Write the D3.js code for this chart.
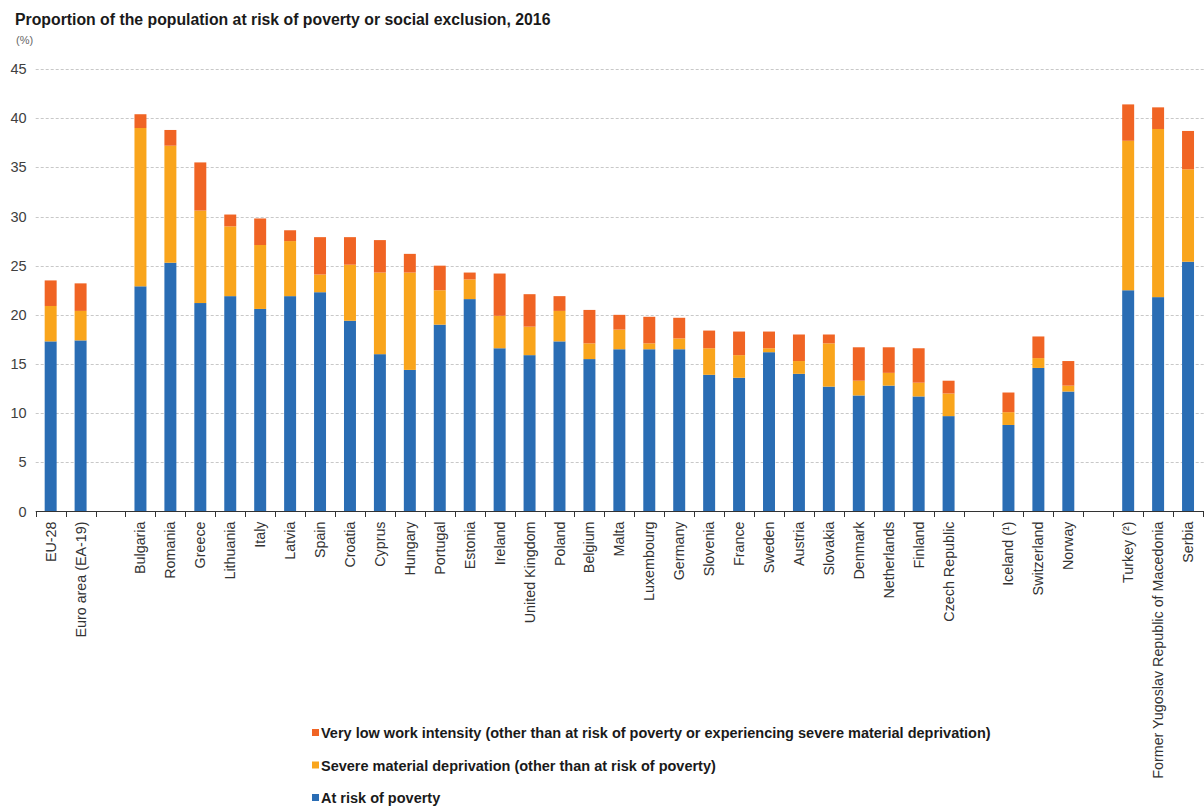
<!DOCTYPE html>
<html>
<head>
<meta charset="utf-8">
<script src="https://cdn.jsdelivr.net/npm/d3@7/dist/d3.min.js"></script>
<style>
  html, body { margin: 0; padding: 0; background: #fff; }
  svg { display: block; font-family: "Liberation Sans", Arial, sans-serif; }
</style>
</head>
<body>
<svg id="chart" width="1204" height="807"></svg>
<script>
// ---- Data (values in %) ----
const categories = [
  "EU-28", "Euro area (EA-19)", "",
  "Bulgaria", "Romania", "Greece", "Lithuania", "Italy", "Latvia", "Spain", "Croatia",
  "Cyprus", "Hungary", "Portugal", "Estonia", "Ireland", "United Kingdom", "Poland",
  "Belgium", "Malta", "Luxembourg", "Germany", "Slovenia", "France", "Sweden", "Austria",
  "Slovakia", "Denmark", "Netherlands", "Finland", "Czech Republic", " ",
  "Iceland (¹)", "Switzerland", "Norway", "  ",
  "Turkey (²)", "Former Yugoslav Republic of Macedonia", "Serbia"
];
// At risk of poverty
const atRiskOfPoverty = [
  17.3, 17.4, null,
  22.9, 25.3, 21.2, 21.9, 20.6, 21.9, 22.3, 19.4,
  16.0, 14.4, 19.0, 21.6, 16.6, 15.9, 17.3,
  15.5, 16.5, 16.5, 16.5, 13.9, 13.6, 16.2, 14.0,
  12.7, 11.8, 12.8, 11.7, 9.7, null,
  8.8, 14.6, 12.2, null,
  22.5, 21.8, 25.4
];
// Severe material deprivation (other than at risk of poverty)
const severeMaterialDeprivation = [
  3.6, 3.0, null,
  16.1, 11.9, 9.4, 7.1, 6.5, 5.6, 1.8, 5.7,
  8.3, 9.9, 3.5, 2.0, 3.3, 2.9, 3.1,
  1.6, 2.0, 0.6, 1.1, 2.7, 2.3, 0.4, 1.3,
  4.4, 1.5, 1.3, 1.4, 2.3, null,
  1.3, 1.0, 0.6, null,
  15.2, 17.1, 9.4
];
// Very low work intensity (other than at risk of poverty or experiencing severe material deprivation)
const veryLowWorkIntensity = [
  2.6, 2.8, null,
  1.4, 1.6, 4.9, 1.2, 2.7, 1.1, 3.8, 2.8,
  3.3, 1.9, 2.5, 0.7, 4.3, 3.3, 1.5,
  3.4, 1.5, 2.7, 2.1, 1.8, 2.4, 1.7, 2.7,
  0.9, 3.4, 2.6, 3.5, 1.3, null,
  2.0, 2.2, 2.5, null,
  3.7, 2.2, 3.9
];
const yTicks = [0, 5, 10, 15, 20, 25, 30, 35, 40, 45];
const seriesNames = [
  "Very low work intensity (other than at risk of poverty or experiencing severe material deprivation)",
  "Severe material deprivation (other than at risk of poverty)",
  "At risk of poverty"
];
const seriesKeys = ["arp", "smd", "vlwi"];
const colors = { arp: "#2a6db4", smd: "#f9a51c", vlwi: "#f06424" };

// ---- Build table ----
const rows = categories.map((c, i) => ({
  cat: c,
  arp: atRiskOfPoverty[i] || 0,
  smd: severeMaterialDeprivation[i] || 0,
  vlwi: veryLowWorkIntensity[i] || 0,
  empty: atRiskOfPoverty[i] == null
}));

const svg = d3.select("#chart");

const x = d3.scaleBand()
  .domain(categories)
  .range([35.7, 1203])
  .paddingInner(0.6)
  .paddingOuter(0.3);

const y = d3.scaleLinear().domain([0, 45]).range([511.5, 69]);

// Title
svg.append("text")
  .attr("x", 15).attr("y", 25)
  .attr("font-size", 15.8).attr("font-weight", "bold")
  .attr("fill", "#1a1a1a")
  .text("Proportion of the population at risk of poverty  or social exclusion, 2016");
svg.append("text")
  .attr("x", 16).attr("y", 44)
  .attr("font-size", 11).attr("fill", "#666")
  .text("(%)");

// Gridlines
svg.append("g")
  .selectAll("line")
  .data(yTicks.filter(d => d > 0))
  .join("line")
  .attr("x1", 35.7).attr("x2", 1204)
  .attr("y1", d => Math.round(y(d)) + 0.5).attr("y2", d => Math.round(y(d)) + 0.5)
  .attr("stroke", "#c8c8c8")
  .attr("stroke-dasharray", "3,2");

// Y axis labels
const yAxis = d3.axisLeft(y).tickValues(yTicks).tickSize(0).tickPadding(9);
const gy = svg.append("g").attr("transform", "translate(35.7,0)").call(yAxis);
gy.select(".domain").remove();
gy.selectAll("text").attr("font-size", 14.5).attr("fill", "#404040")
  .attr("font-family", "Liberation Sans, Arial, sans-serif");

// Stacked bars
const stack = d3.stack().keys(seriesKeys);
const stacked = stack(rows);
svg.append("g")
  .selectAll("g")
  .data(stacked)
  .join("g")
  .attr("fill", d => colors[d.key])
  .selectAll("rect")
  .data(d => d.filter(p => !p.data.empty))
  .join("rect")
  .attr("x", d => x(d.data.cat))
  .attr("width", x.bandwidth())
  .attr("y", d => y(d[1]))
  .attr("height", d => y(d[0]) - y(d[1]));

// X axis
const boundaries = d3.range(categories.length + 1).map(i => 35.7 + i * (1203 - 35.7) / categories.length);
const gx = svg.append("g");
gx.append("line")
  .attr("x1", 35.7).attr("x2", 1204)
  .attr("y1", 511.5).attr("y2", 511.5)
  .attr("stroke", "#333").attr("stroke-width", 1.2);
gx.selectAll("line.tick")
  .data(boundaries)
  .join("line")
  .attr("class", "tick")
  .attr("x1", d => Math.round(d) + 0.5).attr("x2", d => Math.round(d) + 0.5)
  .attr("y1", 511.5).attr("y2", 517)
  .attr("stroke", "#333");

const xAxis = d3.axisBottom(x).tickSize(0).tickPadding(0);
const gxl = svg.append("g").attr("transform", "translate(0,511.5)").call(xAxis);
gxl.select(".domain").remove();
gxl.selectAll("text")
  .attr("font-size", 14.3)
  .attr("fill", "#333")
  .attr("font-family", "Liberation Sans, Arial, sans-serif")
  .attr("text-anchor", "end")
  .attr("transform", "rotate(-90)")
  .attr("x", -10)
  .attr("y", 0)
  .attr("dy", "0.35em");

// Legend
const legendColors = [colors.vlwi, colors.smd, colors.arp];
const lg = svg.append("g");
seriesNames.forEach((name, i) => {
  const cy = 733 + i * 32.5;
  lg.append("rect")
    .attr("x", 312).attr("y", cy - 4).attr("width", 7).attr("height", 7)
    .attr("fill", legendColors[i]);
  lg.append("text")
    .attr("x", 321).attr("y", cy + 5)
    .attr("font-size", 14.5).attr("font-weight", "bold").attr("fill", "#1a1a1a")
    .text(name);
});
</script>
</body>
</html>
